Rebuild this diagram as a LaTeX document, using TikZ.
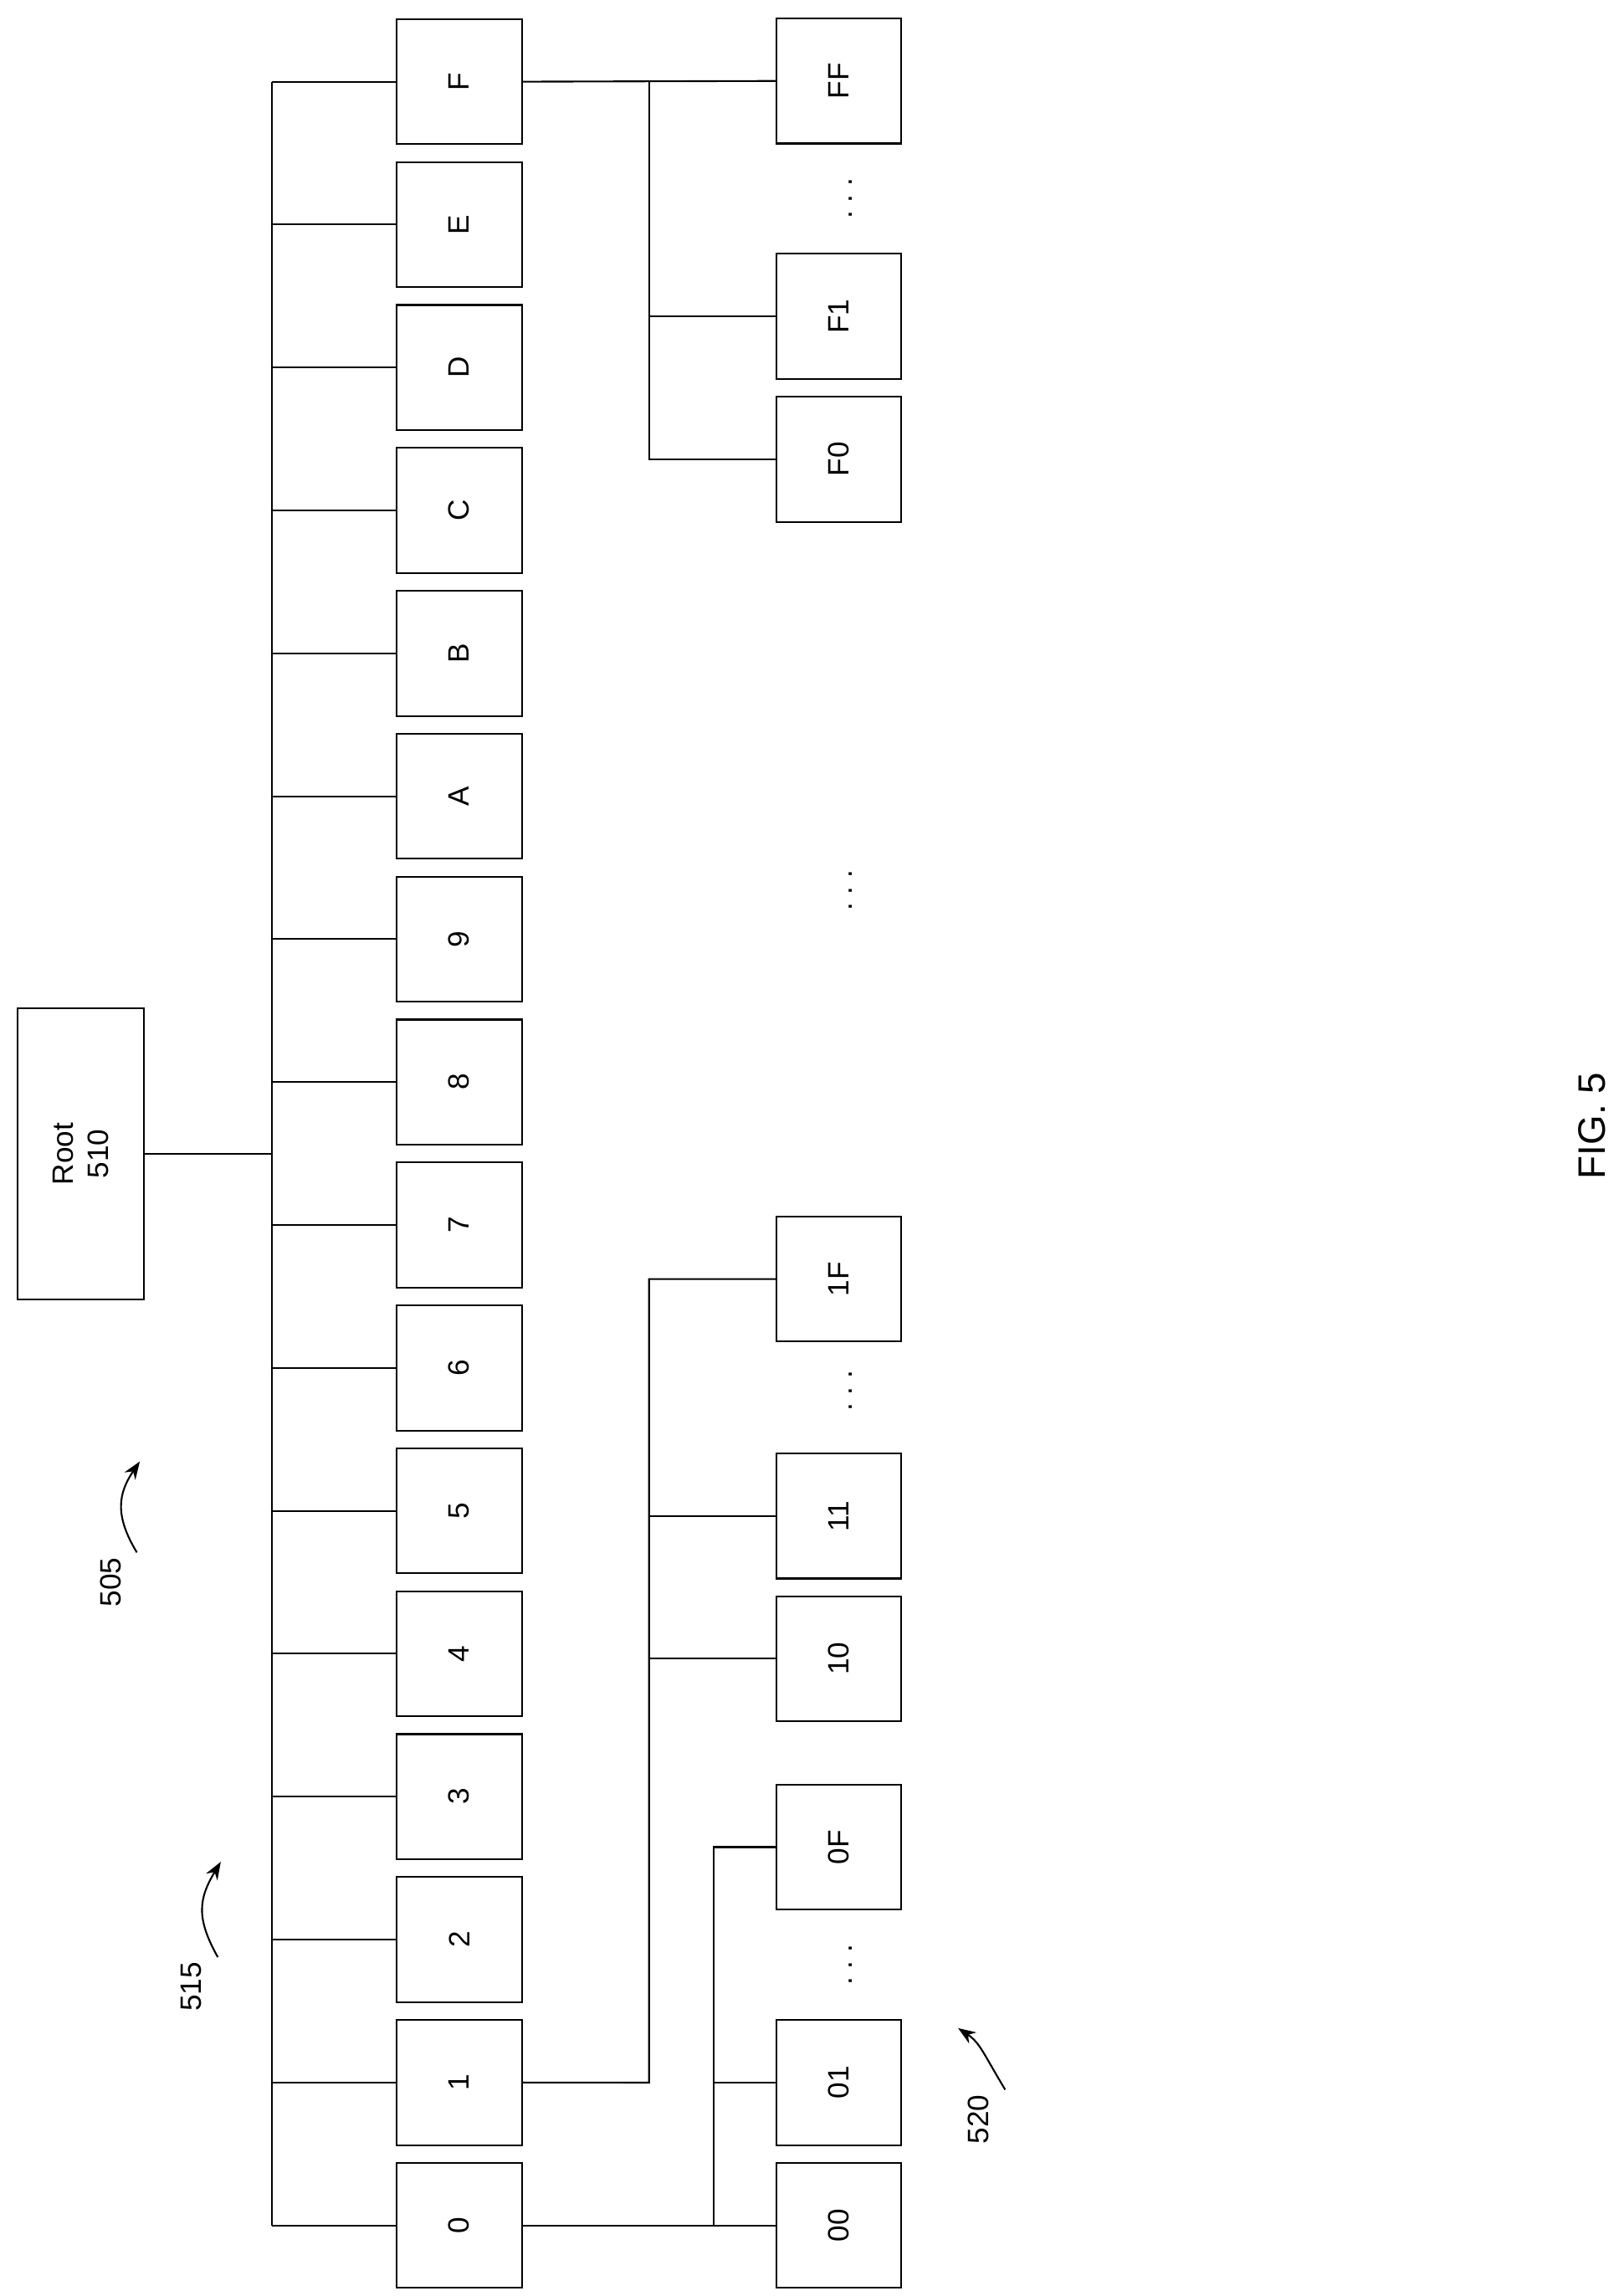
\documentclass[tikz,border=0pt]{standalone}
\usepackage{fontspec}
\setmainfont{Liberation Sans}
\usetikzlibrary{arrows.meta}
\begin{document}
\begin{tikzpicture}[x=1pt,y=-1pt,
  bx/.style={draw,line width=1.2pt,minimum width=85pt,minimum height=85pt,inner sep=0pt,font=\fontsize{20}{24}\selectfont,rotate=90},
  ln/.style={line width=1.2pt},
  lbl/.style={font=\fontsize{20}{24}\selectfont,rotate=90},
  dotsl/.style={font=\fontsize{20}{24}\selectfont,rotate=90}]
\useasboundingbox (0,0) rectangle (1100,1560);
\node[draw,line width=1.2pt,minimum width=198pt,minimum height=86pt,rotate=90,align=center,font=\fontsize{20}{24}\selectfont] (root) at (55,784) {Root\\510};
\coordinate (bus) at (185,784);
\foreach \t [count=\i from 0] in {0,1,2,3,4,5,6,7,8,9,A,B,C,D,E,F} {
  \node[bx] (n\t) at (312,{1512-97.1*\i}) {\t};
  \draw[ln] (n\t.north) -- (185,{1512-97.1*\i}) coordinate (b\t);
}
\draw[ln] (b0) -- (bF);
\draw[ln] (root.south) -- (bus);
% second level
\node[bx] (m00) at (570,1512) {00};
\node[bx] (m01) at (570,1415) {01};
\node[bx] (m0F) at (570,1255) {0F};
\node[bx] (m10) at (570,1127) {10};
\node[bx] (m11) at (570,1030) {11};
\node[bx] (m1F) at (570,869) {1F};
\node[bx] (mF0) at (570,312) {F0};
\node[bx] (mF1) at (570,215) {F1};
\node[bx] (mFF) at (570,55) {FF};
% group 0
\draw[ln] (n0.south) -- (m00.north);
\draw[ln] (485,1512) |- (m0F.north);
\draw[ln] (485,1415) -- (m01.north);
% group 1
\draw[ln] (n1.south) -- (441,1415) |- (m1F.north);
\draw[ln] (441,1127) -- (m10.north);
\draw[ln] (441,1030) -- (m11.north);
% group F
\draw[ln] (nF.south) -- (mFF.north);
\draw[ln] (441,55) |- (mF0.north);
\draw[ln] (441,215) -- (mF1.north);
% dots
\node[dotsl] (d1) at (578,1335) {.\ .\ .};
\node[dotsl] (d2) at (578,945) {.\ .\ .};
\node[dotsl] (d3) at (578,135) {.\ .\ .};
\node[dotsl] (d4) at (578,605) {.\ .\ .};
% reference labels
\node[lbl] (l505) at (75,1075) {505};
\draw[ln,-{Stealth[length=12pt,width=9pt]}] (l505.east) ++(18,0) .. controls (78,1030) and (80,1015) .. (95,993);
\node[lbl] (l515) at (130,1350) {515};
\draw[ln,-{Stealth[length=12pt,width=9pt]}] (l515.east) ++(18,0) .. controls (133,1303) and (135,1290) .. (150,1265);
\node[lbl] (l520) at (665,1440) {520};
\draw[ln,-{Stealth[length=12pt,width=9pt]}] (l520.east) ++(18,0) .. controls (668,1395) and (666,1388) .. (651,1378);
\node[font=\fontsize{26}{30}\selectfont,rotate=90] (fig) at (1082,765) {FIG. 5};
\end{tikzpicture}
\end{document}
